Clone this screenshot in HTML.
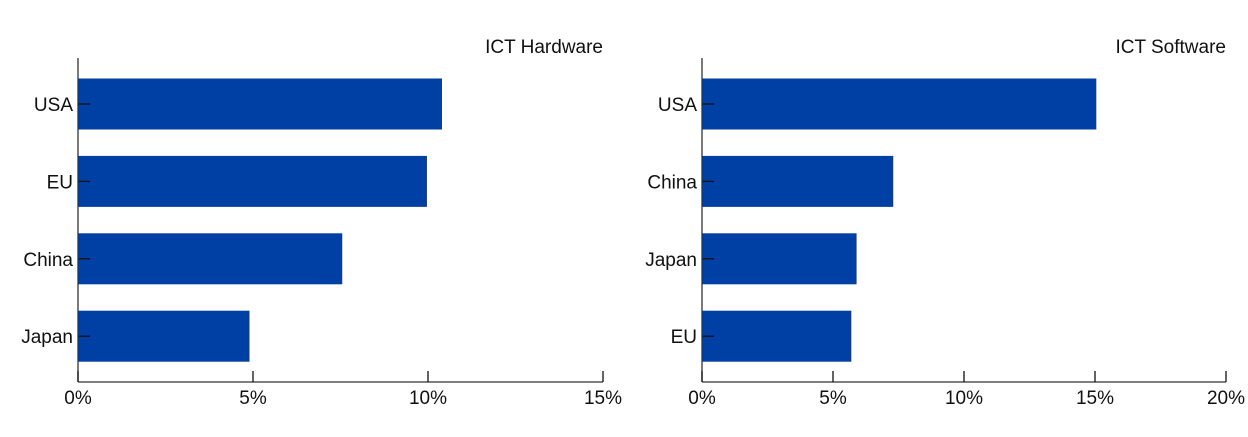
<!DOCTYPE html>
<html><head><meta charset="utf-8"><style>
html,body{margin:0;padding:0;background:#fff;}
svg text{font-family:"Liberation Sans",Arial,sans-serif;font-size:19px;fill:#111;}
</style></head><body>
<svg id="chart" width="1248" height="432" xmlns="http://www.w3.org/2000/svg"></svg>
<script>
const hwCategories = ["USA","EU","China","Japan"];
const hwValues = [10.4, 9.97, 7.55, 4.9];
const hwTicks = [0,5,10,15];
const swCategories = ["USA","China","Japan","EU"];
const swValues = [15.05, 7.3, 5.9, 5.7];
const swTicks = [0,5,10,15,20];

const NS="http://www.w3.org/2000/svg";
const svg=document.getElementById('chart');
function mk(tag,attrs,parent){const e=document.createElementNS(NS,tag);for(const k in attrs)e.setAttribute(k,attrs[k]);(parent||svg).appendChild(e);return e;}

function panel(name,title,cats,vals,ticks,x0,x1){
  const g=mk('g',{});
  
  
  const maxT=ticks[ticks.length-1];
  const xs=v=>x0+(x1-x0)*v/maxT;
  const yTop=58,yBot=382,c0=104,step=77.4,bh=51;
  const ys=i=>c0+i*step;
  vals.forEach((v,i)=>{
    const r=mk('rect',{x:x0,y:ys(i)-bh/2,width:xs(v)-x0,height:bh,fill:'#003fa3'},g);
    
    
    const t=mk('text',{x:x0-5,y:ys(i)+7,'text-anchor':'end'},g);
    t.textContent=cats[i];
    
    
    mk('line',{x1:x0,x2:x0+12,y1:ys(i),y2:ys(i),stroke:'#111','stroke-width':1.3},g);
  });
  const ya=mk('line',{x1:x0,x2:x0,y1:yTop,y2:yBot,stroke:'#333','stroke-width':1.3},g);
  
  
  const xa=mk('line',{x1:x0,x2:x1,y1:yBot,y2:yBot,stroke:'#333','stroke-width':1.3},g);
  
  
  ticks.forEach(tv=>{
    mk('line',{x1:xs(tv),x2:xs(tv),y1:yBot,y2:yBot-11,stroke:'#111','stroke-width':1.3},g);
    const t=mk('text',{x:xs(tv),y:404,'text-anchor':'middle'},g);
    t.textContent=tv+'%';
    
    
  });
  const tt=mk('text',{x:x1,y:53,'text-anchor':'end'},g);
  tt.textContent=title;
  
  
}
panel('ict-hardware-panel','ICT Hardware',hwCategories,hwValues,hwTicks,78,603);
panel('ict-software-panel','ICT Software',swCategories,swValues,swTicks,702,1226);
</script>
</body></html>
